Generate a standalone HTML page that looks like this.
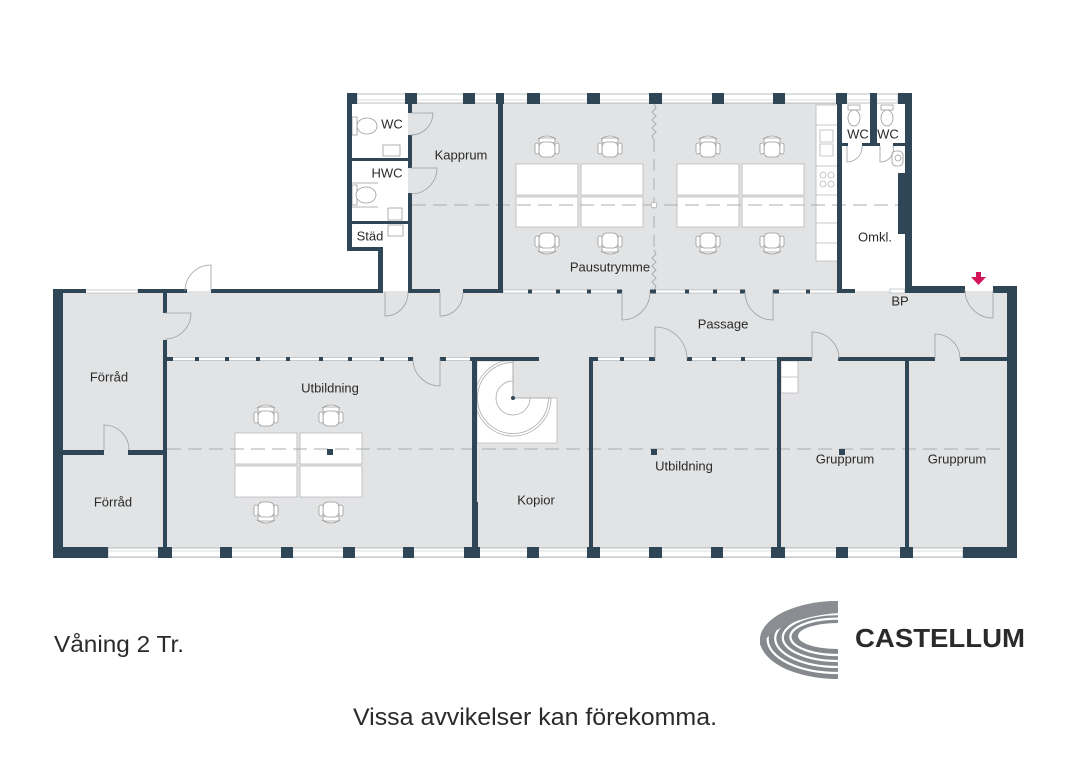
<!DOCTYPE html>
<html><head><meta charset="utf-8"><style>
html,body{margin:0;padding:0;background:#fff;}
svg{display:block;}
text{font-family:"Liberation Sans",Arial,sans-serif;fill:#2a2a2a;}
</style></head><body>
<svg width="1067" height="773" viewBox="0 0 1067 773" xmlns="http://www.w3.org/2000/svg">
<defs>
<g id="ch" fill="#fff" stroke="#9a9a9a" stroke-width="0.8">
<path d="M-9,-9 Q0,-15 9,-9"/>
<rect x="-8" y="-10" width="16" height="5" rx="2"/>
<rect x="-8" y="-6" width="16" height="15" rx="5"/>
<rect x="-12" y="-5" width="4" height="11" rx="2"/>
<rect x="8" y="-5" width="4" height="11" rx="2"/>
</g>
</defs>
<rect width="1067" height="773" fill="#fff"/>
<path fill="#e2e3e4" d="M53 291h964v267h-964z M408 100h432v193h-432z"/>

<path fill="#fff" stroke="#b8b8b8" stroke-width="0.8" d="M516 164h62v31h-62z M581 164h62v31h-62z M516 197h62v30h-62z M581 197h62v30h-62z M677 164h62v31h-62z M742 164h62v31h-62z M677 197h62v30h-62z M742 197h62v30h-62z M235 433h62v31h-62z M300 433h62v31h-62z M235 466h62v31h-62z M300 466h62v31h-62z M816 105h22v156h-22z M820 130h13v12h-13z M820 144h13v12h-13z M781 361h17v32h-17z M816 125h22 M816 166h22 M816 195h22 M816 223h22 M816 243h22 M781 377h17"/>
<g fill="#fff" stroke="#b8b8b8" stroke-width="0.8">
<circle cx="823" cy="175" r="3"/><circle cx="831" cy="175" r="3"/><circle cx="823" cy="184" r="3"/><circle cx="831" cy="184" r="3"/>
</g>

<use href="#ch" x="547" y="148"/><use href="#ch" x="610" y="148"/><use href="#ch" x="708" y="148"/><use href="#ch" x="772" y="148"/>
<use href="#ch" transform="translate(547,242) rotate(180)"/><use href="#ch" transform="translate(610,242) rotate(180)"/>
<use href="#ch" transform="translate(708,242) rotate(180)"/><use href="#ch" transform="translate(772,242) rotate(180)"/>
<use href="#ch" x="266" y="417"/><use href="#ch" x="331" y="417"/>
<use href="#ch" transform="translate(266,511) rotate(180)"/><use href="#ch" transform="translate(331,511) rotate(180)"/>

<path d="M477,361 H513 V398 H557 V443 H477 Z" fill="#fff" stroke="#bcbcbc" stroke-width="0.8"/>
<path fill="none" stroke="#a8a8a8" stroke-width="0.8" d="M513,360 A38,38 0 1 0 551,398 M513,362.5 A35.5,35.5 0 1 0 548.5,398 M513,381 A17,17 0 1 0 530,398 M513,360 V398 H551"/>
<circle cx="513" cy="398" r="2" fill="#2f4657"/>

<path fill="#fff" stroke="#9a9a9a" stroke-width="0.8" d="M352 117h5v18h-5z M383 145h17v11h-17z M352 185h5v20h-5z M388 208h14v12h-14z M388 225h15v11h-15z M848 105h12v5h-12z M881 105h12v5h-12z M352 183h26 M352 207h26"/>
<g fill="#fff" stroke="#9a9a9a" stroke-width="0.8">
<ellipse cx="367" cy="126" rx="10" ry="8"/><ellipse cx="366" cy="195" rx="10" ry="8"/>
<ellipse cx="854" cy="118" rx="6" ry="8"/><ellipse cx="887" cy="118" rx="6" ry="8"/>
<rect x="892" y="151" width="11" height="15" rx="4"/><circle cx="898" cy="158" r="3"/>
</g>

<g stroke="#a9adb1" stroke-width="1" fill="none">
<path stroke-dasharray="14 7" d="M412 205H898 M167 449H1005"/>
<path stroke-dasharray="12 7" d="M654 140V250"/>
<path d="M654,104 l2,4 -4,4 4,4 -4,4 4,4 -4,4 4,4 -4,4 2,4 M654,250 l2,4 -4,4 4,4 -4,4 4,4 -4,4 4,4 -4,4 4,4 -2,5"/>
</g>
<rect x="651.5" y="202.5" width="5" height="5" fill="#fff" stroke="#aaa" stroke-width="0.6"/>

<path fill="#fff" stroke="#9aa0a5" stroke-width="0.6" d="M167 357.5h246v3h-246z M440 357.5h32v3h-32z M593 357.5h62v3h-62z M687 357.5h90v3h-90z M503 290h119v3h-119z M650 290h95v3h-95z M773 290h64v3h-64z M85 290h53v3h-53z M890 289h15v4h-15z"/>

<path fill="#fff" stroke="#a3a8ac" stroke-width="0.7" d="M357 94h541v9h-541z M108 548h855v9h-855z"/>
<path stroke="#b5b9bd" stroke-width="0.6" d="M357 100H898 M108 551H963"/>

<path fill="#2f4657" d="M347 93h5v158h-5z M347 247h36v4h-36z M378 247h5v46h-5z M347 158h64v3h-64z M347 221h61v3h-61z M408 100h4v13h-4z M408 135h4v33h-4z M408 193h4v100h-4z M408 289h32v4h-32z M463 289h40v4h-40z M498 100h5v193h-5z M837 100h5v193h-5z M837 289h18v4h-18z M870 93h7v53h-7z M842 143h6v3h-6z M862 143h15v3h-15z M877 143h3v3h-3z M893 143h12v3h-12z M905 93h7v200h-7z M898 173h7v61h-7z M53 289h33v4h-33z M138 289h49v4h-49z M211 289h172v4h-172z M905 286h60v7h-60z M993 286h24v7h-24z M53 289h10v269h-10z M1007 286h10v272h-10z M163 293h4v20h-4z M163 340h4v210h-4z M63 450h41v5h-41z M128 450h35v5h-35z M470 357h69v4h-69z M472 357h5v193h-5z M474 502h4v48h-4z M589 357h4v193h-4z M777 357h4v193h-4z M777 357h35v4h-35z M838 357h97v4h-97z M960 357h47v4h-47z M905 357h4v193h-4z M53 547h55v11h-55z M963 547h54v11h-54z
M347 93h10v11h-10z M405 93h12v11h-12z M463 93h12v11h-12z M496 93h8v11h-8z M527 93h13v11h-13z M587 93h13v11h-13z M649 93h13v11h-13z M712 93h12v11h-12z M773 93h12v11h-12z M836 93h11v11h-11z M898 93h14v11h-14z
M158 547h14v11h-14z M220 547h12v11h-12z M281 547h12v11h-12z M343 547h12v11h-12z M403 547h11v11h-11z M464 547h16v11h-16z M527 547h12v11h-12z M587 547h13v11h-13z M649 547h13v11h-13z M711 547h12v11h-12z M771 547h14v11h-14z M836 547h12v11h-12z M900 547h13v11h-13z
M167 357h6v4h-6z M195 357h4v4h-4z M225 357h4v4h-4z M256 357h4v4h-4z M286 357h4v4h-4z M319 357h4v4h-4z M348 357h4v4h-4z M380 357h4v4h-4z M408 357h5v4h-5z M440 357h6v4h-6z M593 357h5v4h-5z M620 357h4v4h-4z M649 357h6v4h-6z M687 357h5v4h-5z M712 357h4v4h-4z M741 357h4v4h-4z
M528 289.5h4v4h-4z M556 289.5h4v4h-4z M587 289.5h4v4h-4z M617 289.5h5v4h-5z M650 289.5h6v4h-6z M685 289.5h4v4h-4z M713 289.5h4v4h-4z M740 289.5h5v4h-5z M773 289.5h6v4h-6z M806 289.5h4v4h-4z
M327 449h6v6h-6z M651 449h6v6h-6z M839 449h6v6h-6z"/>

<path fill="none" stroke="#9aa0a5" stroke-width="0.8" d="M211,291 L211,265 A26,26 0 0 0 185,291 M165,313 L191,313 A26,26 0 0 1 165,339 M104,450 L104,425 A25,25 0 0 1 129,450 M385,292 L385,316 A23,23 0 0 0 408,292 M440,292 L440,316 A23,23 0 0 0 463,292 M622,292 L622,320 A28,28 0 0 0 650,292 M773,292 L773,320 A28,28 0 0 1 745,292 M440,359 L440,386 A27,27 0 0 1 413,359 M655,359 L655,327 A32,32 0 0 1 687,359 M812,359 L812,332 A27,27 0 0 1 839,359 M935,359 L935,334 A25,25 0 0 1 960,359 M993,290 L993,318 A28,28 0 0 1 965,290 M411,113 L433,113 A22,22 0 0 1 411,135 M411,168 L437,168 A26,26 0 0 1 411,194 M847,146 L847,162 A15,15 0 0 0 862,146 M880,146 L880,162 A13,13 0 0 0 893,146"/>

<path fill="#d4145a" d="M976 272h5v6h-5z M971,277 L986,277 L978.5,285 Z"/>

<g font-size="13" text-anchor="middle">
<text x="392" y="128.5">WC</text>
<text x="387" y="177.5">HWC</text>
<text x="370" y="240.5">Städ</text>
<text x="461" y="159.5">Kapprum</text>
<text x="610" y="271.5">Pausutrymme</text>
<text x="858" y="138.5">WC</text>
<text x="888" y="138.5">WC</text>
<text x="875" y="241.5">Omkl.</text>
<text x="900" y="305.5">BP</text>
<text x="723" y="328.5">Passage</text>
<text x="109" y="381.5">Förråd</text>
<text x="113" y="506.5">Förråd</text>
<text x="330" y="392.5">Utbildning</text>
<text x="536" y="504.5">Kopior</text>
<text x="684" y="470.5">Utbildning</text>
<text x="845" y="463.5">Grupprum</text>
<text x="957" y="463.5">Grupprum</text>
</g>
<text x="54" y="652" font-size="23.5" textLength="130" lengthAdjust="spacingAndGlyphs" fill="#1a1a1a">Våning 2 Tr.</text>
<text x="353" y="725" font-size="24" textLength="364" lengthAdjust="spacingAndGlyphs" fill="#1a1a1a">Vissa avvikelser kan förekomma.</text>

<path d="M838,601 A78,39 0 0 0 760,640 A78,39 0 0 0 838,679 Z" fill="#85898d"/>
<path fill="none" stroke="#fff" stroke-width="2.2" d="M838,605.4 A70.4,33.8 0 0 0 767.6,639.2 A70.4,33.8 0 0 0 838,673 M838,609.8 A62.8,28.6 0 0 0 775.2,638.4 A62.8,28.6 0 0 0 838,667 M838,614.2 A55.2,23.4 0 0 0 782.8,637.6 A55.2,23.4 0 0 0 838,661 M838,618.6 A47.6,18.2 0 0 0 790.4,636.8 A47.6,18.2 0 0 0 838,655"/>
<path d="M838,623 A40,13 0 0 0 798,636 A40,13 0 0 0 838,649 Z" fill="#fff"/>
<path d="M838,601 A78,39 0 0 0 760,640 L760,646 C770,630 798,616 838,613 Z" fill="#8a8d91"/>
<text x="855" y="647" font-size="26" font-weight="bold" textLength="170" lengthAdjust="spacingAndGlyphs" fill="#3a3a3a">CASTELLUM</text>
</svg>
</body></html>
